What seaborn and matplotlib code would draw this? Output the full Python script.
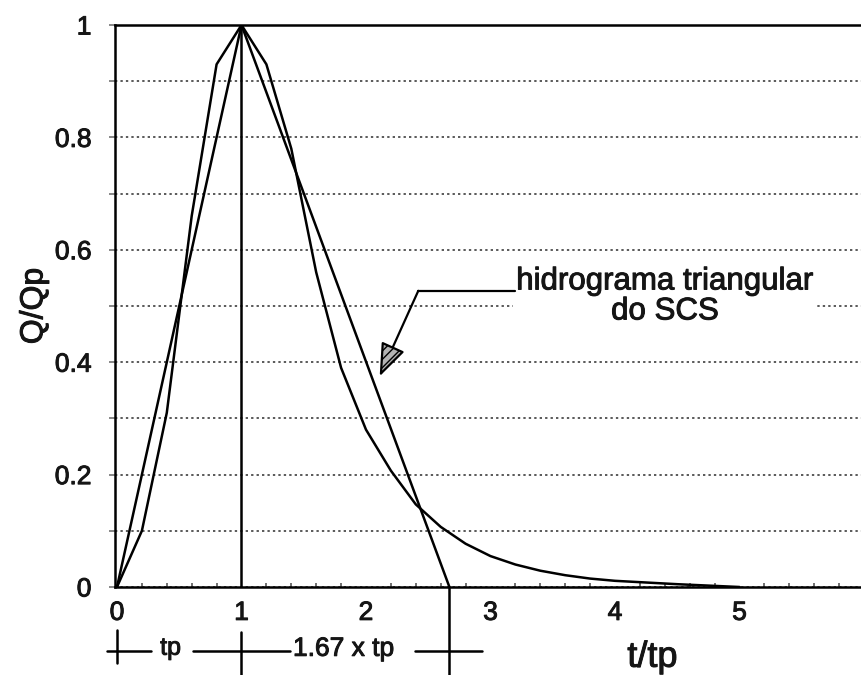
import numpy as np
import pandas as pd
import matplotlib
matplotlib.use("Agg")
import matplotlib.pyplot as plt
import matplotlib.patheffects as pe
import seaborn as sns
from matplotlib.ticker import MultipleLocator

# SCS dimensionless unit hydrograph (curvilinear)
t_curve = [0.0, 0.2, 0.4, 0.6, 0.8, 1.0, 1.2, 1.4, 1.6, 1.8, 2.0, 2.2, 2.4,
           2.6, 2.8, 3.0, 3.2, 3.4, 3.6, 3.8, 4.0, 4.5, 5.0]
q_curve = [0.0, 0.10, 0.31, 0.66, 0.93, 1.00, 0.93, 0.78, 0.56, 0.39, 0.28,
           0.207, 0.147, 0.107, 0.077, 0.055, 0.040, 0.029, 0.021, 0.015,
           0.011, 0.005, 0.0]
# SCS triangular hydrograph
t_tri = [0.0, 1.0, 2.67]
q_tri = [0.0, 1.0, 0.0]

x_ticks = [0, 1, 2, 3, 4, 5]
y_ticks = [0, 0.2, 0.4, 0.6, 0.8, 1]
y_tick_labels = ["0", "0.2", "0.4", "0.6", "0.8", "1"]

sns.set_theme(style="white")
plt.rcParams["font.family"] = ["Liberation Sans", "DejaVu Sans"]

TXT = "#151515"
bold = [pe.withStroke(linewidth=0.7, foreground=TXT)]

fig = plt.figure(figsize=(8.61, 6.75), dpi=100)
W, H = 861, 675
ax = fig.add_axes([115 / W, 1 - 587 / H, (W - 115) / W, (587 - 25) / H])

df_c = pd.DataFrame({"t": t_curve, "q": q_curve})
df_t = pd.DataFrame({"t": t_tri, "q": q_tri})
lw = 1.8
sns.lineplot(data=df_c, x="t", y="q", color="black", lw=lw, ax=ax,
             sort=False, estimator=None, zorder=4)
sns.lineplot(data=df_t, x="t", y="q", color="black", lw=lw, ax=ax,
             sort=False, estimator=None, zorder=4)

ax.set_xlim(-0.016, 5.976)
ax.set_ylim(0, 1)

ax.set_xticks(x_ticks)
ax.set_xticklabels([str(v) for v in x_ticks])
ax.xaxis.set_minor_locator(MultipleLocator(0.2))
ax.set_yticks(y_ticks)
ax.set_yticklabels(y_tick_labels)
ax.yaxis.set_minor_locator(MultipleLocator(0.1))

ax.tick_params(axis="x", which="both", direction="in", length=3, width=1.2,
               color="0.35", pad=10, labelsize=19, labelcolor=TXT)
ax.tick_params(axis="x", which="major", length=0)
ax.tick_params(axis="y", which="both", direction="out", length=4, width=1.2,
               color="0.45", pad=13, labelsize=19, labelcolor=TXT)
ax.tick_params(bottom=True, left=True, which="both")
for lab in ax.get_xticklabels() + ax.get_yticklabels():
    lab.set_path_effects(bold)

ax.yaxis.grid(True, which="both", linestyle=(0, (1.2, 1.6)), color="0.35", lw=1.4)
ax.xaxis.grid(False)
ax.set_axisbelow(True)

for s in ["left", "top", "bottom"]:
    ax.spines[s].set_color("black")
    ax.spines[s].set_linewidth(1.8)
ax.spines["right"].set_visible(False)

ax.set_xlabel("")
ax.set_ylabel("Q/Qp", fontsize=23, color=TXT, path_effects=bold)
ax.yaxis.set_label_coords(-0.088, 0.5)

# vertical reference lines
ax.plot([1, 1], [0, 1], color="black", lw=lw, zorder=4)
ax.plot([1, 1], [-0.08, -0.16], color="black", lw=lw, clip_on=False)
ax.plot([2.67, 2.67], [0, -0.16], color="black", lw=lw, clip_on=False)
ax.plot([0, 0], [-0.077, -0.135], color="black", lw=lw, clip_on=False)

# dimension line
yd = -0.113
ax.plot([-0.08, 0.27], [yd, yd], color="black", lw=lw, clip_on=False)
ax.plot([0.61, 1.39], [yd, yd], color="black", lw=lw, clip_on=False)
ax.plot([2.39, 2.93], [yd, yd], color="black", lw=lw, clip_on=False)
ax.text(0.43, yd + 0.005, "tp", fontsize=18, ha="center", va="center",
        color=TXT, path_effects=bold)
ax.text(1.82, yd + 0.003, "1.67 x tp", fontsize=19, ha="center", va="center",
        color=TXT, path_effects=bold)
ax.text(4.3, -0.125, "t/tp", fontsize=26, ha="center", va="center",
        color=TXT, path_effects=bold)

# annotation
ax.text(4.4, 0.517, "hidrograma triangular\ndo SCS", fontsize=22.5, ha="center",
        va="center", linespacing=1.0, color=TXT, zorder=5, path_effects=bold,
        bbox=dict(facecolor="white", edgecolor="none", pad=2))
ax.plot([3.2, 2.42], [0.527, 0.527], color="black", lw=1.6, zorder=5)
ax.annotate("", xy=(2.11, 0.375), xytext=(2.42, 0.527),
            arrowprops=dict(arrowstyle="-|>,head_length=1.7,head_width=0.65",
                            fc="0.7", ec="black", lw=1.6, hatch="////",
                            shrinkA=0, shrinkB=0), zorder=5)

fig.savefig("out.png", dpi=100)
